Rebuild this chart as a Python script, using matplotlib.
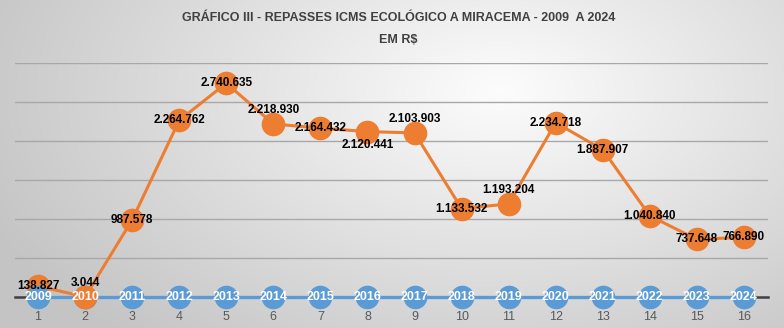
import numpy as np
import matplotlib.pyplot as plt
from matplotlib import font_manager

# dados
indices = list(range(1, 17))
anos = [2009, 2010, 2011, 2012, 2013, 2014, 2015, 2016,
        2017, 2018, 2019, 2020, 2021, 2022, 2023, 2024]
repasses = [138827, 3044, 987578, 2264762, 2740635, 2218930, 2164432, 2120441,
            2103903, 1133532, 1193204, 2234718, 1887907, 1040840, 737648, 766890]
zeros = [0] * len(anos)
# posicao do rotulo: c = centro, a = acima, b = abaixo
pos_rotulo = ['c', 'a', 'c', 'c', 'c', 'a', 'c', 'b',
              'a', 'c', 'a', 'c', 'c', 'c', 'c', 'c']

try:
    font_manager.findfont("Liberation Sans Narrow", fallback_to_default=False)
    fonte = ["Liberation Sans Narrow", "DejaVu Sans"]
except Exception:
    fonte = ["Liberation Sans", "DejaVu Sans"]
plt.rcParams['font.family'] = fonte

laranja = "#ED7D31"
azul = "#5B9BD5"

fig = plt.figure(figsize=(7.84, 3.28), dpi=100)

# fundo com gradiente radial
bg = fig.add_axes([0, 0, 1, 1], zorder=-10)
yy, xx = np.mgrid[0:328, 0:784]
d = np.sqrt(((xx - 500) / 560.0) ** 2 + ((yy - 90) / 330.0) ** 2)
g = np.clip(0.99 - 0.22 * d, 0.77, 1)
bg.imshow(np.dstack([g, g, g]), aspect='auto', extent=[0, 1, 0, 1])
bg.set_axis_off()

ax = fig.add_axes([14.5 / 784, 1 - 297 / 328, 753 / 784, 234 / 328])
ax.set_facecolor('none')
ax.set_xlim(0.5, 16.5)
ax.set_ylim(0, 3000000)
for s in ax.spines.values():
    s.set_visible(False)
ax.set_yticks(np.arange(500000, 3000001, 500000))
ax.set_yticklabels([])
ax.tick_params(axis='y', length=0)
ax.yaxis.grid(True, color="#A8A8A8", linewidth=1)
ax.set_axisbelow(True)
ax.axhline(0, color="#404040", linewidth=1.8, zorder=1, clip_on=False)

ax.set_xticks(indices)
ax.set_xticklabels([str(i) for i in indices], fontsize=9, color="#595959")
ax.tick_params(axis='x', length=0, pad=10)

# serie azul (anos) na linha zero
ax.plot(indices, zeros, color=azul, linewidth=2.4, zorder=2, clip_on=False)
# serie laranja (repasses)
ax.plot(indices, repasses, color=laranja, linewidth=2.2, marker='o',
        markersize=16, clip_on=False, zorder=3)
ax.plot(indices, zeros, linestyle='none', marker='o', color=azul,
        markersize=16, clip_on=False, zorder=4)
# 2010 fica por cima
ax.plot(indices[1], repasses[1], marker='o', color=laranja, markersize=16,
        clip_on=False, zorder=5)

for x, a in zip(indices, anos):
    ax.annotate(str(a), (x, 0), ha='center', va='center', color='white',
                fontsize=9, fontweight='bold', zorder=7, annotation_clip=False)

for x, v, p in zip(indices, repasses, pos_rotulo):
    txt = f"{v:,}".replace(",", ".")
    dy = {'c': 0, 'a': 10, 'b': -10}[p]
    ax.annotate(txt, (x, v), xytext=(0, dy), textcoords='offset points',
                ha='center', va='center', color='black', fontsize=8.5,
                fontweight='bold', zorder=8, annotation_clip=False)

fig.text(0.508, 0.945, "GRÁFICO III - REPASSES ICMS ECOLÓGICO A MIRACEMA - 2009  A 2024",
         ha='center', va='center', fontsize=9, fontweight='bold', color="#404040")
fig.text(0.508, 0.878, "EM R$", ha='center', va='center', fontsize=9,
         fontweight='bold', color="#404040")

fig.savefig("out.png", dpi=100)
